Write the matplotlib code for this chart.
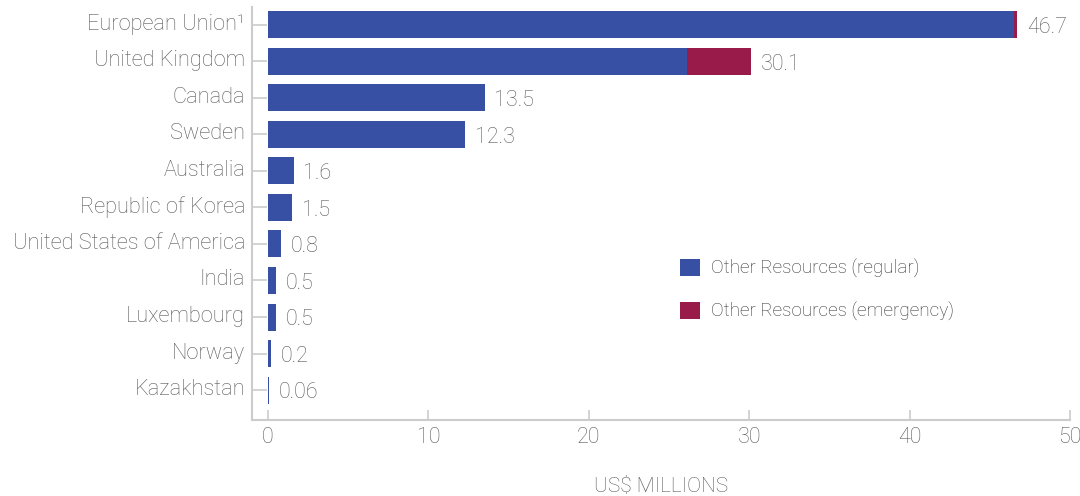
import numpy as np
import matplotlib
matplotlib.use("Agg")
import matplotlib.pyplot as plt
import matplotlib.transforms as mtransforms
from matplotlib.patches import Patch

# Data
donors = ["European Union\u00b9", "United Kingdom", "Canada", "Sweden", "Australia",
          "Republic of Korea", "United States of America", "India", "Luxembourg",
          "Norway", "Kazakhstan"]
regular = [46.5, 26.1, 13.5, 12.3, 1.6, 1.5, 0.8, 0.5, 0.5, 0.17, 0.06]
emergency = [0.2, 4.0, 0, 0, 0, 0, 0, 0, 0, 0.03, 0]
totals = ["46.7", "30.1", "13.5", "12.3", "1.6", "1.5", "0.8", "0.5", "0.5", "0.2", "0.06"]

blue = "#3750a3"
red = "#981b4a"
grey_text = "#5a5a5a"
axis_grey = "#cccccc"

plt.rcParams['font.family'] = ['Roboto', 'DejaVu Sans']

fig = plt.figure(figsize=(10.8, 4.96), dpi=100)
ax = fig.add_axes([0.2333, 0.1532, 0.7574, 0.8328])

y = np.arange(len(donors))
ax.barh(y, regular, height=0.74, color=blue)
ax.barh(y, emergency, left=regular, height=0.74, color=red)

# value labels at the end of each bar
for i in range(len(donors)):
    end = regular[i] + emergency[i]
    ax.annotate(totals[i], xy=(end, y[i]), xytext=(7, -2), textcoords="offset points",
                va="center", ha="left", fontsize=15.5, color=grey_text, fontweight="light")

ax.set_xlim(-1.0, 50)
ax.set_ylim(10.82, -0.49)
ax.set_yticks(y)
ax.set_yticklabels(donors)
ax.set_xticks([0, 10, 20, 30, 40, 50])

for s in ["top", "right"]:
    ax.spines[s].set_visible(False)
for s in ["left", "bottom"]:
    ax.spines[s].set_color(axis_grey)
    ax.spines[s].set_linewidth(1.5)

ax.tick_params(axis="y", direction="in", length=11, width=1.2, color=axis_grey,
               labelsize=15.7, labelcolor=grey_text, pad=5)
ax.tick_params(axis="x", direction="in", length=7, width=1.2, color=axis_grey,
               labelsize=15.5, labelcolor=grey_text, pad=5)
for lab in ax.get_xticklabels():
    lab.set_fontweight("light")
# country names sit a little above their tick
shift = mtransforms.ScaledTranslation(0, 3 / 100, fig.dpi_scale_trans)
for lab in ax.get_yticklabels():
    lab.set_fontweight("light")
    lab.set_transform(lab.get_transform() + shift)

ax.set_xlabel("US$ MILLIONS", fontsize=15, color=grey_text, labelpad=21, fontweight="light")

handles = [Patch(facecolor=blue, label="Other Resources (regular)"),
           Patch(facecolor=red, label="Other Resources (emergency)")]
leg = ax.legend(handles=handles, loc="upper left", bbox_to_anchor=(0.502, 0.432),
                frameon=False, fontsize=13.6, handlelength=1.06, handleheight=1.06,
                labelspacing=1.25, handletextpad=0.6)
for t in leg.get_texts():
    t.set_color("#333333")
    t.set_fontweight("light")

fig.savefig("out.png", dpi=100)
